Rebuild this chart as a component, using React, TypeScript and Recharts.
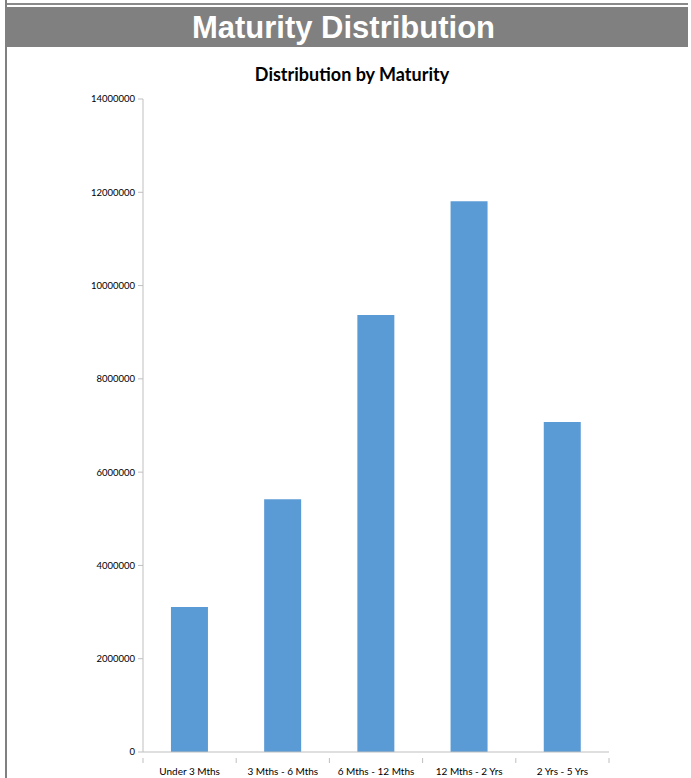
import React from "react";
import { BarChart, Bar, XAxis, YAxis } from "recharts";

const categories = ["Under 3 Mths", "3 Mths - 6 Mths", "6 Mths - 12 Mths", "12 Mths - 2 Yrs", "2 Yrs - 5 Yrs"];
const values = [3110000, 5420000, 9370000, 11810000, 7075000];
const yTicks = [0, 2000000, 4000000, 6000000, 8000000, 10000000, 12000000, 14000000];

const data = categories.map((name, i) => ({ name, value: values[i] }));

const W = 691;
const H = 778;
const M = { top: 99, right: 82, bottom: 0, left: 83 };
const Y_W = 60;
const X_H = 26;
const FONT = "Lato, 'Open Sans', sans-serif";

const CatTick = (props: any) => {
  const { x, y, payload, index } = props;
  const plotW = W - M.left - Y_W - M.right;
  const step = plotW / categories.length;
  return (
    <g>
      <line x1={x - step / 2} x2={x - step / 2} y1={y - 2} y2={y + 3} stroke="#BFBFBF" strokeWidth={1} />
      {index === categories.length - 1 && (
        <line x1={x + step / 2} x2={x + step / 2} y1={y - 2} y2={y + 3} stroke="#BFBFBF" strokeWidth={1} />
      )}
      <text x={x} y={y + 15} textAnchor="middle" fontSize={10} fill="#000" fontFamily={FONT}>
        {payload.value}
      </text>
    </g>
  );
};

export default function App() {
  return (
    <div style={{ position: "absolute", left: 0, top: 0, width: W, height: H, background: "#fff", overflow: "hidden" }}>
      <div style={{ position: "absolute", left: 5, top: 0, width: 2, height: H, background: "#808080" }} />
      <div style={{ position: "absolute", left: 7, top: 3, width: 681, height: 2, background: "#8a8a8a" }} />
      <div
        style={{
          position: "absolute",
          left: 7,
          top: 7,
          width: 681,
          height: 40,
          background: "#808080",
          color: "#fff",
          fontFamily: "'Liberation Sans', Arial, sans-serif",
          fontWeight: "bold",
          fontSize: 31,
          lineHeight: "42px",
          textAlign: "center",
          boxSizing: "border-box",
          paddingRight: 8,
        }}
      >
        Maturity Distribution
      </div>
      <div
        style={{
          position: "absolute",
          left: 0,
          top: 63,
          width: 704,
          textAlign: "center",
          fontFamily: FONT,
          fontWeight: "bold",
          fontSize: 18,
          lineHeight: "22px",
          color: "#000",
        }}
      >
        Distribution by Maturity
      </div>
      <div style={{ position: "absolute", left: 0, top: 0 }}>
        <BarChart width={W} height={H} data={data} margin={M} barCategoryGap="30%">
          <XAxis
            dataKey="name"
            height={X_H}
            interval={0}
            stroke="#BFBFBF"
            tickLine={false}
            tick={<CatTick />}
          />
          <YAxis
            width={Y_W}
            domain={[0, 14000000]}
            ticks={yTicks}
            interval={0}
            stroke="#BFBFBF"
            tickSize={5}
            tickMargin={3}
            tick={{ fontSize: 9.5, fill: "#000", fontFamily: FONT }}
          />
          <Bar dataKey="value" fill="#5B9BD5" isAnimationActive={false} />
        </BarChart>
      </div>
    </div>
  );
}
